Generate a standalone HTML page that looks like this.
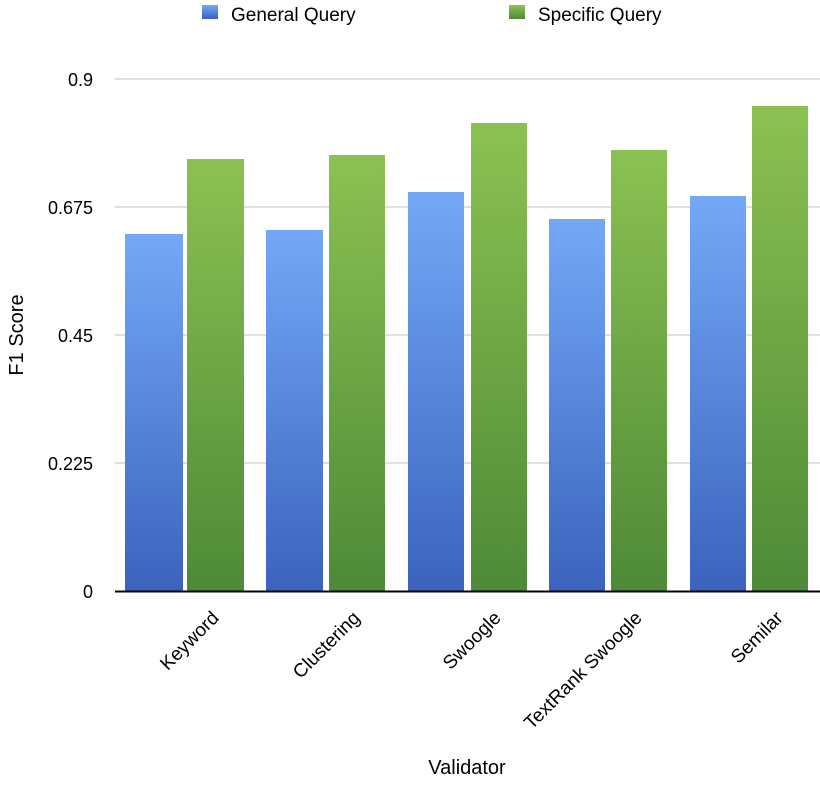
<!DOCTYPE html>
<html><head><meta charset="utf-8"><style>body{margin:0;background:#fff}</style></head><body>
<svg width="820" height="780" xmlns="http://www.w3.org/2000/svg" font-family="Liberation Sans, sans-serif">
<defs>
<linearGradient id="b" x1="0" y1="0" x2="0" y2="1"><stop offset="0" stop-color="#74a8f7"/><stop offset="1" stop-color="#3b63bd"/></linearGradient>
<linearGradient id="g" x1="0" y1="0" x2="0" y2="1"><stop offset="0" stop-color="#8cc152"/><stop offset="1" stop-color="#4e8a37"/></linearGradient>
<linearGradient id="lb" x1="0" y1="0" x2="0" y2="1"><stop offset="0" stop-color="#74a8f7"/><stop offset="1" stop-color="#3b63bd"/></linearGradient>
</defs>
<g stroke="#e0e0e0" stroke-width="2">
<line x1="115" y1="79" x2="820" y2="79"/><line x1="115" y1="207" x2="820" y2="207"/><line x1="115" y1="335" x2="820" y2="335"/><line x1="115" y1="463" x2="820" y2="463"/>
</g>
<g font-size="18" text-anchor="end" fill="#000">
<text x="93" y="86">0.9</text><text x="93" y="214">0.675</text><text x="93" y="342">0.45</text><text x="93" y="470">0.225</text><text x="93" y="598">0</text>
</g>
<g>
<rect x="125" y="234" width="58" height="357" fill="url(#b)"/><rect x="187" y="159" width="57" height="432" fill="url(#g)"/>
<rect x="266" y="230" width="57" height="361" fill="url(#b)"/><rect x="329" y="155" width="56" height="436" fill="url(#g)"/>
<rect x="408" y="192" width="56" height="399" fill="url(#b)"/><rect x="471" y="123" width="56" height="468" fill="url(#g)"/>
<rect x="549" y="219" width="56" height="372" fill="url(#b)"/><rect x="611" y="150" width="56" height="441" fill="url(#g)"/>
<rect x="690" y="196" width="56" height="395" fill="url(#b)"/><rect x="752" y="106" width="56" height="485" fill="url(#g)"/>
</g>
<line x1="115" y1="591.5" x2="820" y2="591.5" stroke="#000" stroke-width="2"/>
<g font-size="19" text-anchor="end" fill="#000">
<text transform="translate(220,619) rotate(-45)">Keyword</text>
<text transform="translate(361,619) rotate(-45)">Clustering</text>
<text transform="translate(502,619) rotate(-45)">Swoogle</text>
<text transform="translate(643,619) rotate(-45)">TextRank Swoogle</text>
<text transform="translate(784,619) rotate(-45)">Semilar</text>
</g>
<text x="467" y="774" font-size="20" text-anchor="middle">Validator</text>
<text transform="translate(23,335) rotate(-90)" font-size="20" text-anchor="middle">F1 Score</text>
<rect x="202" y="5" width="16" height="14" fill="url(#lb)"/>
<text x="231" y="21" font-size="19">General Query</text>
<rect x="509" y="5" width="16" height="14" fill="url(#g)"/>
<text x="538" y="21" font-size="19">Specific Query</text>
</svg>
</body></html>
